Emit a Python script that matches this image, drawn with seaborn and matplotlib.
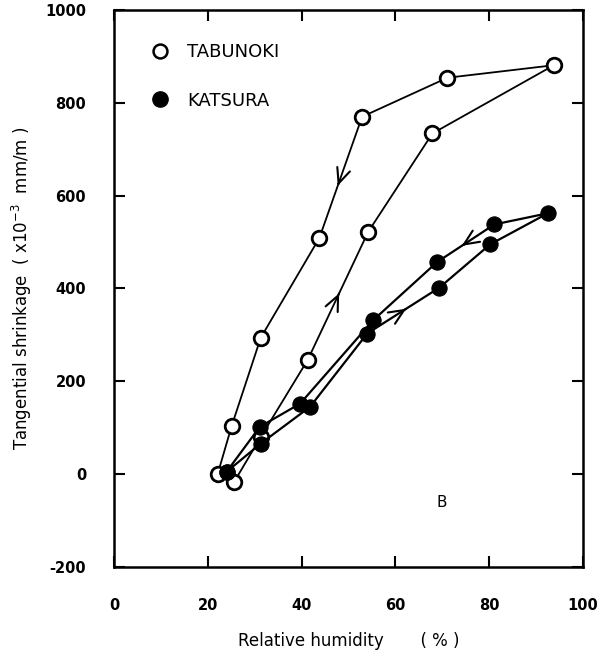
import matplotlib
matplotlib.use("Agg")
import matplotlib.pyplot as plt
import seaborn as sns
import numpy as np
import pandas as pd
from matplotlib.lines import Line2D

sns.set_theme(style="white")
plt.rcParams['font.family'] = ['DejaVu Sans']
plt.rcParams['text.color'] = 'black'
plt.rcParams['axes.labelcolor'] = 'black'
plt.rcParams['xtick.color'] = 'black'
plt.rcParams['ytick.color'] = 'black'

# TABUNOKI (open circles): adsorption then desorption
tab_rh = [25.6, 31.3, 41.3, 54.2, 67.9, 93.8, 71.1, 52.9, 43.8, 31.3, 25.1, 22.1]
tab_sh = [-17, 80, 246, 522, 734, 881, 854, 770, 509, 294, 104, 0]

# KATSURA (filled circles): adsorption then desorption
kat_rh = [24.0, 31.3, 41.8, 54.0, 69.4, 80.2, 92.5, 81.1, 68.9, 55.3, 39.7, 31.1, 24.0]
kat_sh = [5, 66, 145, 303, 402, 495, 562, 538, 457, 332, 152, 102, 5]

x_ticks = [0, 20, 40, 60, 80, 100]
y_ticks = [-200, 0, 200, 400, 600, 800, 1000]

tab = pd.DataFrame({"rh": tab_rh, "sh": tab_sh})
kat = pd.DataFrame({"rh": kat_rh, "sh": kat_sh})

fig = plt.figure(figsize=(6.04, 6.57), dpi=100)
ax = fig.add_axes([0.1887, 0.137, 0.7765, 0.8478])

sns.lineplot(data=tab, x="rh", y="sh", sort=False, estimator=None, ax=ax,
             color="black", linewidth=1.3, marker="o", markersize=10.5,
             markerfacecolor="white", markeredgecolor="black", markeredgewidth=2.0, zorder=3)
sns.lineplot(data=kat, x="rh", y="sh", sort=False, estimator=None, ax=ax,
             color="black", linewidth=1.6, marker="o", markersize=11,
             markerfacecolor="black", markeredgecolor="black", zorder=3)

# direction arrows along segments
def seg_arrow(xs, ys, i, t):
    x0, y0, x1, y1 = xs[i], ys[i], xs[i + 1], ys[i + 1]
    xa = x0 + (x1 - x0) * t
    ya = y0 + (y1 - y0) * t
    dx = (x1 - x0) * 0.02
    dy = (y1 - y0) * 0.02
    ax.annotate("", xy=(xa + dx, ya + dy), xytext=(xa - dx, ya - dy),
                arrowprops=dict(arrowstyle="->,head_length=0.9,head_width=0.4",
                                color="black", lw=1.5), zorder=4)

seg_arrow(tab_rh, tab_sh, 7, 0.55)   # desorption, downward
seg_arrow(tab_rh, tab_sh, 2, 0.52)   # adsorption, upward
seg_arrow(kat_rh, kat_sh, 7, 0.55)   # desorption, leftward
seg_arrow(kat_rh, kat_sh, 3, 0.52)   # adsorption, rightward

ax.set_xlim(0, 100)
ax.set_ylim(-200, 1000)
ax.set_xticks(x_ticks)
ax.set_yticks(y_ticks)
ax.set_xticklabels([str(v) for v in x_ticks], fontsize=10.5, fontweight="bold")
ax.set_yticklabels([str(v) for v in y_ticks], fontsize=10.5, fontweight="bold")
ax.tick_params(direction="in", length=8, width=1.5, top=True, right=True,
               bottom=True, left=True, colors="black")
ax.tick_params(axis="x", pad=22)
ax.tick_params(axis="y", pad=20)
for s in ax.spines.values():
    s.set_linewidth(1.8)
    s.set_color("black")

ax.set_xlabel("Relative humidity       ( % )", fontsize=12, labelpad=14)
ax.set_ylabel("Tangential shrinkage  ( x10$^{-3}$  mm/m )", fontsize=12, labelpad=8)

ax.text(69.8, -62, "B", fontsize=11, ha="center", va="center")

handles = [
    Line2D([], [], linestyle="none", marker="o", markersize=10, markerfacecolor="white",
           markeredgecolor="black", markeredgewidth=1.8),
    Line2D([], [], linestyle="none", marker="o", markersize=11, markerfacecolor="black",
           markeredgecolor="black"),
]
ax.legend(handles, ["TABUNOKI", "KATSURA"], loc="upper left", bbox_to_anchor=(0.025, 0.97),
          frameon=False, fontsize=13, handletextpad=0.5, labelspacing=1.7)

fig.savefig("out.png", dpi=100)
